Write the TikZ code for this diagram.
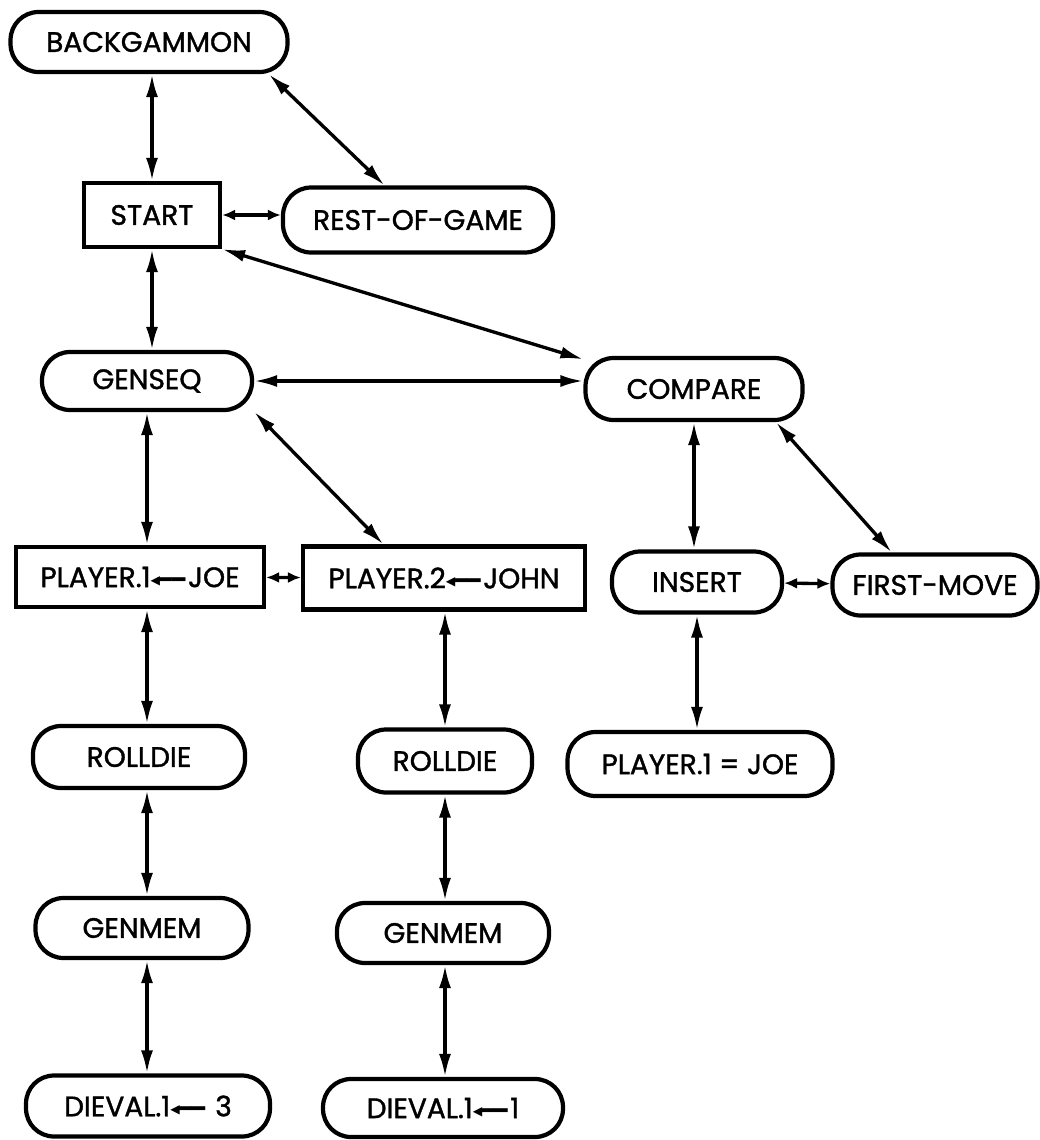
\documentclass[tikz,border=0pt]{standalone}
\usepackage{fontspec}
\setmainfont{Poppins}[BoldFont=Poppins, BoldFeatures={FakeBold=1.3}]
\newfontfamily\symfont{DejaVu Sans}
\usepackage{tikz}
\usetikzlibrary{arrows.meta}
\newcommand{\boxline}{2.4pt}
\newcommand{\linkline}{1.9pt}
\newcommand{\nodefont}{\fontsize{16}{19}\selectfont\bfseries}
\newcommand{\getsarrow}{{\symfont\raisebox{1.6pt}{\fontsize{7}{7}\selectfont ◀}\kern-1.2pt\fontsize{13}{13}\selectfont ━━}\kern1.5pt}

\begin{document}
\begin{tikzpicture}[x=0.02cm, y=-0.02cm,
    box/.style={draw, line width=\boxline, minimum height=1.24cm, inner sep=0pt, font=\nodefont},
    rbox/.style={box, rounded corners=0.56cm},
    link/.style={line width=\linkline, {Latex[length=4.6mm,width=2.4mm]}-{Latex[length=4.6mm,width=2.4mm]}},
    shortlink/.style={line width=\linkline, {Latex[length=2.6mm,width=2.2mm]}-{Latex[length=2.6mm,width=2.2mm]}}]
      \useasboundingbox (0,0) rectangle (1039,1140);
      % top of the tree
        \node (backgammon) at (149,42) [rbox, minimum width=5.54cm, minimum height=1.2cm] {BACKGAMMON};
        \node (start) at (152,215) [box, minimum width=2.72cm, minimum height=1.28cm] {START};
        \node (restgame) at (418,220) [rbox, minimum width=5.4cm, minimum height=1.3cm] {REST-OF-GAME};
        \node (genseq) at (147,381) [rbox, minimum width=4.2cm, minimum height=1.16cm] {GENSEQ};
        \node (compare) at (694,389) [rbox, minimum width=4.34cm] {COMPARE};
      % players
        \node (player1) at (140,577) [box, minimum width=4.96cm, minimum height=1.2cm] {PLAYER.1\getsarrow JOE};
        \node (player2) at (444,578) [box, minimum width=5.64cm, minimum height=1.26cm] {PLAYER.2\getsarrow JOHN};
        \node (insert) at (697,582) [rbox, minimum width=3.4cm, minimum height=1.22cm] {INSERT};
        \node (firstmove) at (935,585) [rbox, minimum width=4.1cm, minimum height=1.22cm] {FIRST-MOVE};
      % dice
        \node (rolldie1) at (139,757) [rbox, minimum width=4.24cm] {ROLLDIE};
        \node (rolldie2) at (445,761) [rbox, minimum width=3.48cm, minimum height=1.26cm] {ROLLDIE};
        \node (p1eq) at (700,764) [rbox, minimum width=5.3cm, minimum height=1.28cm] {PLAYER.1 = JOE};
        \node (genmem1) at (142,928) [rbox, minimum width=4.26cm, minimum height=1.2cm] {GENMEM};
        \node (genmem2) at (443,933) [rbox, minimum width=4.24cm, minimum height=1.2cm] {GENMEM};
        \node (dieval1) at (148,1106) [rbox, minimum width=4.88cm, minimum height=1.22cm] {DIEVAL.1\getsarrow\ 3};
        \node (dieval2) at (443,1108) [rbox, minimum width=4.8cm, minimum height=1.16cm] {DIEVAL.1\getsarrow 1};

        \draw[link] (start |- backgammon.south) to (start);
        \draw[link] (backgammon.-15) to (restgame.134);
        \draw[shortlink] (start) to (start -| restgame.west);
        \draw[link] (start.south east) to (compare.165);
        \draw[link] (start) to (start |- genseq.north);
        \draw[link] (genseq) to (genseq -| compare.west);
        \draw[link] (genseq) to (genseq |- player1.north);
        \draw[link] (genseq.-16) to (player2.151);
        \draw[link] (compare) to (compare |- insert.north);
        \draw[link] (compare.-22) to (firstmove.143);
        \draw[shortlink] (player1) to (player2);
        \draw[shortlink] (insert) to (firstmove);
        \draw[link] (insert) to (insert |- p1eq.north);

        \draw[link] (genseq |- player1.south) to (genseq |- rolldie1.north);
        \draw[link] (genseq |- rolldie1.south) to (genseq |- genmem1.north);
        \draw[link] (genseq |- genmem1.south) to (genseq |- dieval1.north);
        \draw[link] (rolldie2 |- player2.south) to (rolldie2);
        \draw[link] (rolldie2) to (rolldie2 |- genmem2.north);
        \draw[link] (rolldie2 |- genmem2.south) to (rolldie2 |- dieval2.north);
    \end{tikzpicture}
\end{document}
